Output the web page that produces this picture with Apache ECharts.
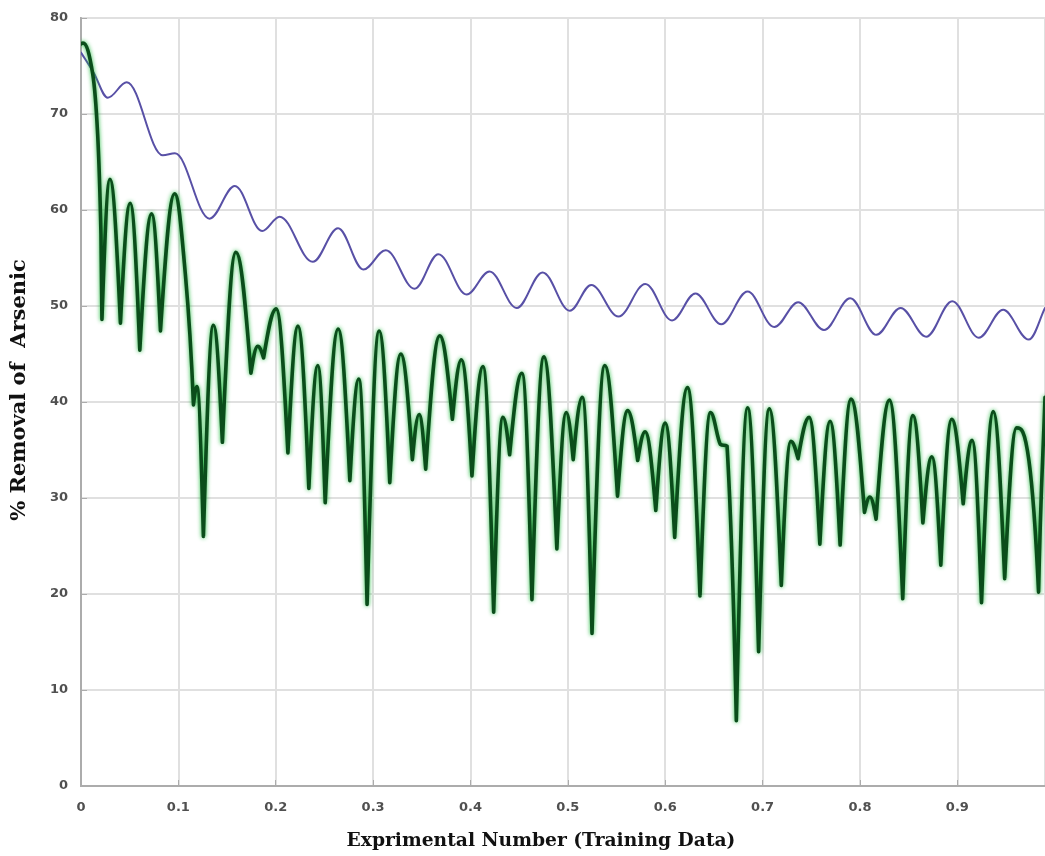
<!DOCTYPE html>
<html>
<head>
<meta charset="utf-8">
<script src="https://cdn.jsdelivr.net/npm/echarts@6/dist/echarts.min.js"></script>
<style>
  html, body { margin: 0; padding: 0; background: #ffffff; }
  #chart { width: 1045px; height: 856px; }
</style>
</head>
<body>
<div id="chart"></div>
<script>
// Axis ticks
const xTickValues = [0, 0.1, 0.2, 0.3, 0.4, 0.5, 0.6, 0.7, 0.8, 0.9];
const yTickValues = [0, 10, 20, 30, 40, 50, 60, 70, 80];

// Smooth (blue) curve: [experiment fraction, % removal]
const modelCurve = [
  [0, 76.4], [0.013, 74.3], [0.0275, 71.7], [0.047, 73.3],
  [0.084, 65.7], [0.0965, 65.9], [0.132, 59.1], [0.158, 62.5],
  [0.186, 57.8], [0.204, 59.3], [0.238, 54.6], [0.264, 58.1], [0.290, 53.8],
  [0.313, 55.8], [0.3426, 51.8], [0.367, 55.4], [0.396, 51.2], [0.4195, 53.6],
  [0.4475, 49.8], [0.474, 53.5], [0.502, 49.5], [0.524, 52.2], [0.552, 48.9],
  [0.5795, 52.3], [0.607, 48.5], [0.631, 51.3], [0.6575, 48.1], [0.6845, 51.5],
  [0.712, 47.8], [0.7365, 50.4], [0.763, 47.5], [0.790, 50.8], [0.8168, 47.0],
  [0.8417, 49.8], [0.868, 46.8], [0.8947, 50.5], [0.922, 46.7], [0.947, 49.6],
  [0.9733, 46.5], [0.99, 49.8]
];

// Oscillating (green) curve: [experiment fraction, % removal]
const trainingCurve = [
  [0, 77.3], [0.002, 77.4], [0.012, 74.2], [0.0171, 67.9], [0.0205, 57.5], [0.0215, 48.6],
  [0.0297, 63.2], [0.0405, 48.2], [0.0505, 60.7], [0.0604, 45.4], [0.0725, 59.6],
  [0.0816, 47.4], [0.0962, 61.7], [0.107, 53.5], [0.1155, 39.7], [0.119, 41.6],
  [0.1257, 26.0], [0.136, 48.0], [0.1452, 35.8], [0.159, 55.6], [0.1745, 43.0],
  [0.1815, 45.8], [0.1875, 44.6], [0.2005, 49.7], [0.2125, 34.7], [0.2228, 47.9],
  [0.234, 31.0], [0.2432, 43.8], [0.2508, 29.5], [0.2641, 47.6], [0.2761, 31.8],
  [0.2853, 42.4], [0.2938, 18.9], [0.3062, 47.4], [0.3171, 31.6], [0.3284, 45.0],
  [0.3403, 34.0], [0.3472, 38.7], [0.354, 33.0], [0.3684, 46.9], [0.3814, 38.2],
  [0.3906, 44.4], [0.4015, 32.3], [0.4128, 43.7], [0.4238, 18.1], [0.4333, 38.4],
  [0.4402, 34.5], [0.4528, 43.0], [0.4631, 19.4], [0.4754, 44.7], [0.4887, 24.7],
  [0.4983, 38.9], [0.5055, 34.0], [0.5148, 40.5], [0.5248, 15.9], [0.5379, 43.8],
  [0.551, 30.2], [0.5614, 39.1], [0.5717, 33.9], [0.5793, 36.9], [0.5903, 28.7],
  [0.6, 37.8], [0.6097, 25.9], [0.6228, 41.5], [0.6357, 19.8], [0.6465, 38.9],
  [0.6565, 35.6], [0.6635, 35.4], [0.673, 6.8], [0.6846, 39.4], [0.6959, 14.0],
  [0.7069, 39.3], [0.7192, 20.9], [0.729, 35.9], [0.7364, 34.1], [0.7478, 38.4],
  [0.7588, 25.2], [0.7693, 38.0], [0.7796, 25.1], [0.7908, 40.3], [0.8046, 28.5],
  [0.8102, 30.1], [0.8165, 27.8], [0.8303, 40.2], [0.8439, 19.5], [0.8544, 38.6],
  [0.8646, 27.4], [0.8738, 34.3], [0.883, 23.0], [0.8942, 38.2], [0.906, 29.4],
  [0.9152, 36.0], [0.9248, 19.1], [0.9369, 39.0], [0.9486, 21.6], [0.9608, 37.3],
  [0.9735, 33.9], [0.9834, 20.2], [0.99, 40.5]
];

const xInterval = xTickValues[1] - xTickValues[0];
const yInterval = yTickValues[1] - yTickValues[0];

// Builds a cubic path through the points (in pixel space via the axes).
// Peaks get flat, rounded tops; minima are either rounded too or left as
// sharp cusps, giving the |sin|-like look of the training response.
function curvePath(points, api, cuspMinima) {
  const px = points.map(p => api.coord(p));
  const n = px.length;
  const kind = points.map((p, i) => {
    if (i === 0 || i === n - 1) return 'end';
    const a = points[i - 1][1], b = p[1], c = points[i + 1][1];
    if (b >= a && b >= c) return 'max';
    if (b <= a && b <= c) return 'min';
    return 'mid';
  });
  function handle(i, j) {
    const P = px[i], Q = px[j];
    const dx = Q[0] - P[0], dy = Q[1] - P[1];
    const k = kind[i];
    if (k === 'max' || (k === 'min' && !cuspMinima)) return [P[0] + 0.36 * dx, P[1]];
    if (k === 'min') return [P[0] + 0.35 * dx, P[1] + 0.55 * dy];
    if (k === 'end') return [P[0] + dx / 3, P[1] + dy / 3];
    const A = px[i - 1], B = px[i + 1];
    const s = (B[1] - A[1]) / (B[0] - A[0]);
    let cy = P[1] + 0.36 * dx * s;
    const lo = Math.min(P[1], Q[1]), hi = Math.max(P[1], Q[1]);
    cy = Math.max(lo, Math.min(hi, cy));
    return [P[0] + 0.36 * dx, cy];
  }
  let d = 'M' + px[0][0].toFixed(2) + ',' + px[0][1].toFixed(2);
  for (let i = 0; i < n - 1; i++) {
    const c1 = handle(i, i + 1), c2 = handle(i + 1, i), e = px[i + 1];
    d += ' C' + c1[0].toFixed(2) + ',' + c1[1].toFixed(2) + ' ' +
         c2[0].toFixed(2) + ',' + c2[1].toFixed(2) + ' ' +
         e[0].toFixed(2) + ',' + e[1].toFixed(2);
  }
  return d;
}

function curveSeries(name, points, cuspMinima, style, z) {
  return {
    name: name,
    type: 'custom',
    coordinateSystem: 'cartesian2d',
    data: points,
    encode: { x: 0, y: 1 },
    clip: true,
    silent: true,
    z: z,
    renderItem: function (params, api) {
      if (params.dataIndex !== 0) return null;
      return {
        type: 'path',
        shape: { pathData: curvePath(points, api, cuspMinima) },
        style: Object.assign({ fill: 'none', lineJoin: 'round', lineCap: 'round' }, style)
      };
    }
  };
}

const chart = echarts.init(document.getElementById('chart'), null, { renderer: 'canvas' });

const tickLabelStyle = {
  color: '#505050',
  fontFamily: 'DejaVu Sans, sans-serif',
  fontWeight: 'bold',
  fontSize: 13
};

const nameStyle = {
  color: '#111111',
  fontFamily: 'DejaVu Serif, serif',
  fontWeight: 'bold'
};

chart.setOption({
  animation: false,
  backgroundColor: '#ffffff',
  grid: {
    left: 81,
    right: -2,
    top: 18,
    bottom: 69,
    show: true,
    borderColor: '#b4b4b4',
    borderWidth: 2
  },
  xAxis: {
    type: 'value',
    min: xTickValues[0],
    max: 0.99,
    interval: xInterval,
    name: 'Exprimental Number (Training Data)',
    nameLocation: 'middle',
    nameGap: 46,
    nameTextStyle: Object.assign({}, nameStyle, { fontSize: 18.7, padding: [0, 44, 0, 0] }),
    axisLine: { show: true, lineStyle: { color: '#acacac', width: 2 } },
    axisTick: { show: true, inside: true, length: 6, lineStyle: { color: '#acacac', width: 1 } },
    axisLabel: Object.assign({}, tickLabelStyle, {
      margin: 15,
      showMaxLabel: false,
      formatter: v => (xTickValues.some(t => Math.abs(t - v) < 1e-9) ? String(+v.toFixed(1)) : '')
    }),
    splitLine: { show: true, lineStyle: { color: '#e0e0e0', width: 2 } }
  },
  yAxis: {
    type: 'value',
    min: yTickValues[0],
    max: yTickValues[yTickValues.length - 1],
    interval: yInterval,
    name: '% Removal of  Arsenic',
    nameLocation: 'middle',
    nameGap: 51,
    nameRotate: 90,
    nameTextStyle: Object.assign({}, nameStyle, { fontSize: 21, padding: [0, 0, 0, 24] }),
    axisLine: { show: true, lineStyle: { color: '#acacac', width: 2 } },
    axisTick: { show: true, inside: true, length: 6, lineStyle: { color: '#acacac', width: 1 } },
    axisLabel: Object.assign({}, tickLabelStyle, { margin: 13 }),
    splitLine: { show: true, lineStyle: { color: '#e0e0e0', width: 2 } }
  },
  series: [
    curveSeries('Model', modelCurve, false, { stroke: '#5850a6', lineWidth: 2 }, 2),
    curveSeries('Training', trainingCurve, true, {
      stroke: '#0b4d1b',
      lineWidth: 3.6,
      shadowColor: 'rgba(30, 185, 60, 0.95)',
      shadowBlur: 4
    }, 3)
  ]
});
</script>
</body>
</html>
